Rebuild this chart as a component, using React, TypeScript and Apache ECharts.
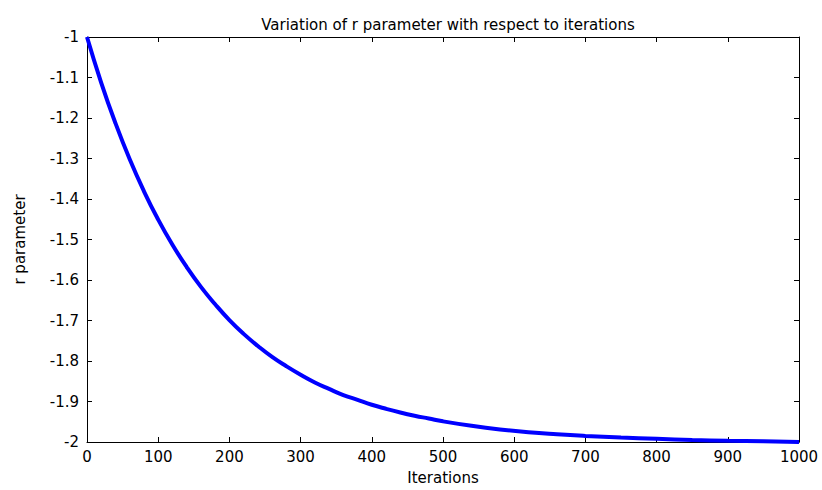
import React, { useEffect, useRef } from "react";
import * as echarts from "echarts";

const iterations = [0, 20, 40, 60, 80, 100, 120, 140, 160, 180, 200, 220, 240, 260, 280, 300, 320, 340, 360, 380, 400, 420, 440, 460, 480, 500, 540, 580, 620, 660, 700, 750, 800, 850, 900, 950, 1000];
const rValues = [-1.0, -1.113, -1.213, -1.302, -1.381, -1.451, -1.513, -1.568, -1.617, -1.66, -1.699, -1.733, -1.763, -1.79, -1.813, -1.834, -1.853, -1.869, -1.884, -1.896, -1.908, -1.918, -1.927, -1.935, -1.942, -1.949, -1.96, -1.969, -1.976, -1.981, -1.985, -1.989, -1.992, -1.995, -1.997, -1.998, -2.0];

const titleText = "Variation of r parameter with respect to iterations";
const xName = "Iterations";
const yName = "r parameter";

export default function App() {
  const ref = useRef<HTMLDivElement>(null);
  useEffect(() => {
    document.body.style.margin = "0";
    if (!ref.current) return;
    const chart = echarts.init(ref.current, null, { renderer: "svg" });
    const font = "'DejaVu Sans', 'Liberation Sans', Arial, sans-serif";
    const data = iterations.map((x, i) => [x, rValues[i]]);
    const tickStyle = { show: true, inside: true, length: 5, lineStyle: { color: "#000", width: 1 } };
    chart.setOption({
      animation: false,
      backgroundColor: "#fff",
      title: {
        text: titleText,
        left: 443,
        textAlign: "center",
        top: 12,
        textStyle: { fontFamily: font, fontSize: 15, fontWeight: "normal", color: "#000" },
      },
      grid: { left: 87, right: 23, top: 37, bottom: 40, containLabel: false },
      xAxis: [
        {
          type: "value",
          min: 0,
          max: 1000,
          interval: 100,
          position: "bottom",
          name: xName,
          nameLocation: "middle",
          nameGap: 28,
          nameTextStyle: { fontFamily: font, fontSize: 15, color: "#000" },
          axisLine: { show: true, onZero: false, lineStyle: { color: "#000", width: 1 } },
          axisTick: tickStyle,
          axisLabel: {
            fontFamily: font,
            fontSize: 15,
            color: "#000",
            margin: 7,
            formatter: (v: number) => String(v),
          },
          splitLine: { show: false },
        },
        {
          type: "value",
          min: 0,
          max: 1000,
          interval: 100,
          position: "top",
          axisLine: { show: true, onZero: false, lineStyle: { color: "#000", width: 1 } },
          axisTick: tickStyle,
          axisLabel: { show: false },
          splitLine: { show: false },
        },
      ],
      yAxis: [
        {
          type: "value",
          min: -2,
          max: -1,
          interval: 0.1,
          position: "left",
          name: yName,
          nameLocation: "middle",
          nameGap: 60,
          nameRotate: 90,
          nameTextStyle: { fontFamily: font, fontSize: 15, color: "#000" },
          axisLine: { show: true, onZero: false, lineStyle: { color: "#000", width: 1 } },
          axisTick: tickStyle,
          axisLabel: {
            fontFamily: font,
            fontSize: 15,
            color: "#000",
            margin: 8,
            formatter: (v: number) => String(Math.round(v * 10) / 10),
          },
          splitLine: { show: false },
        },
        {
          type: "value",
          min: -2,
          max: -1,
          interval: 0.1,
          position: "right",
          axisLine: { show: true, onZero: false, lineStyle: { color: "#000", width: 1 } },
          axisTick: tickStyle,
          axisLabel: { show: false },
          splitLine: { show: false },
        },
      ],
      series: [
        {
          type: "line",
          data,
          xAxisIndex: 0,
          yAxisIndex: 0,
          smooth: true,
          showSymbol: false,
          lineStyle: { color: "#0000ff", width: 4 },
          z: 1,
        },
      ],
    });
    return () => chart.dispose();
  }, []);
  return <div ref={ref} style={{ width: 822, height: 490 }} />;
}
